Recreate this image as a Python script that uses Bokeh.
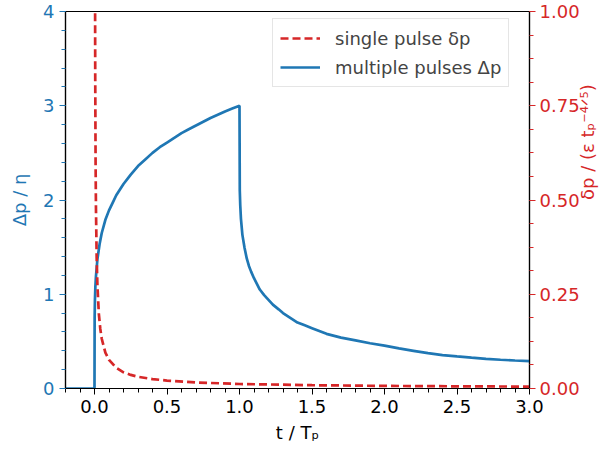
import math
from bokeh.plotting import figure
from bokeh.models import (Range1d, LinearAxis, SingleIntervalTicker, NumeralTickFormatter,
                          Legend, LegendItem)
from bokeh.embed import file_html
from bokeh.resources import INLINE

# ---- data ----
t_multi = [-0.2, 0.0, 0.0, 0.001, 0.003, 0.006, 0.01, 0.02, 0.035, 0.05, 0.075, 0.1, 0.125,
           0.15, 0.2, 0.25, 0.3, 0.35, 0.4, 0.45, 0.5, 0.55, 0.6, 0.65, 0.7, 0.75, 0.8,
           0.85, 0.9, 0.95, 1.0,
           1.002, 1.005, 1.01, 1.02, 1.035, 1.05, 1.065, 1.08, 1.1, 1.12, 1.14, 1.17, 1.2,
           1.23, 1.27, 1.3, 1.35, 1.4, 1.45, 1.5, 1.6, 1.7, 1.8, 1.9, 2.0, 2.1, 2.2, 2.3,
           2.4, 2.5, 2.6, 2.7, 2.8, 2.9, 3.0]
dp_multi = [0.0, 0.0, 0.0, 0.75, 0.94, 1.08, 1.19, 1.37, 1.53, 1.65, 1.79, 1.89, 1.97,
            2.05, 2.17, 2.27, 2.36, 2.43, 2.50, 2.56, 2.61, 2.66, 2.71, 2.75, 2.79, 2.83,
            2.87, 2.905, 2.94, 2.97, 3.0,
            2.10, 1.95, 1.80, 1.63, 1.49, 1.38, 1.30, 1.24, 1.17, 1.11, 1.05, 0.99, 0.94,
            0.89, 0.84, 0.80, 0.75, 0.70, 0.67, 0.64, 0.58, 0.54, 0.51, 0.48, 0.455, 0.425,
            0.40, 0.375, 0.355, 0.34, 0.327, 0.315, 0.305, 0.297, 0.29]

t_single = [0.003, 0.005, 0.0075, 0.01, 0.015, 0.02, 0.03, 0.04, 0.05, 0.075, 0.1, 0.15,
            0.2, 0.25, 0.3, 0.4, 0.5, 0.7, 1.0, 1.5, 2.0, 2.5, 3.0]
dp_single = [1.25, 0.83, 0.60, 0.48, 0.346, 0.275, 0.198, 0.158, 0.132, 0.095, 0.076,
             0.055, 0.043, 0.036, 0.031, 0.025, 0.021, 0.016, 0.012, 0.0087, 0.0069,
             0.0058, 0.005]

BLUE = "#1f77b4"
RED = "#d62728"
FONT = "DejaVu Sans"
FS = "18px"

p = figure(width=611, height=452, x_range=Range1d(-0.2, 3.0), y_range=Range1d(0, 4),
           output_backend="svg", toolbar_location=None,
           min_border_left=65, min_border_right=81, min_border_top=11, min_border_bottom=64)
p.extra_y_ranges = {"right": Range1d(0, 1)}
p.xgrid.visible = False
p.ygrid.visible = False
p.outline_line_color = "black"
p.outline_line_width = 1.2
p.outline_line_alpha = 1.0
p.background_fill_color = "white"
p.border_fill_color = "white"

def style_axis(ax, color, label, ticker, fmt):
    ax.ticker = ticker
    ax.formatter = NumeralTickFormatter(format=fmt)
    ax.axis_label = label
    ax.axis_label_text_font = FONT
    ax.axis_label_text_font_size = FS
    ax.axis_label_text_font_style = "normal"
    ax.axis_label_text_color = color
    ax.major_label_text_font = FONT
    ax.major_label_text_font_size = FS
    ax.major_label_text_color = color
    ax.axis_line_color = "black"
    ax.axis_line_width = 1.2
    ax.major_tick_line_color = color
    ax.minor_tick_line_color = color
    ax.major_tick_in = 0
    ax.major_tick_out = 6
    ax.minor_tick_in = 0
    ax.minor_tick_out = 4
    ax.major_label_standoff = 5

style_axis(p.xaxis[0], "black", "t / Tₚ",
           SingleIntervalTicker(interval=0.5, num_minor_ticks=5), "0.0")
p.xaxis[0].axis_label_standoff = 6
style_axis(p.yaxis[0], BLUE, "Δp / η",
           SingleIntervalTicker(interval=1, num_minor_ticks=5), "0")
p.yaxis[0].axis_label_standoff = 10

right = LinearAxis(y_range_name="right")
style_axis(right, RED, "δp / (ε tₚ⁻⁴ᐟ⁵)",
           SingleIntervalTicker(interval=0.25, num_minor_ticks=4), "0.00")
right.major_label_standoff = 4
right.axis_label_standoff = 5
if "axis_label_orientation" in right.properties():
    right.axis_label_orientation = math.pi / 2
p.add_layout(right, "right")

r_blue = p.line(t_multi, dp_multi, line_color=BLUE, line_width=2.7)
r_red = p.line(t_single, dp_single, y_range_name="right", line_color=RED,
               line_width=2.7, line_dash="8 4")

legend = Legend(items=[LegendItem(label="single pulse δp", renderers=[r_red]),
                       LegendItem(label="multiple pulses Δp", renderers=[r_blue])],
                location=(207, 301))
legend.label_text_font = FONT
legend.label_text_font_size = FS
legend.glyph_width = 40
legend.glyph_height = 24
legend.label_height = 24
legend.label_standoff = 15
legend.spacing = 5
legend.padding = 7
legend.margin = 0
legend.border_line_color = "#cccccc"
legend.border_line_width = 1
legend.background_fill_alpha = 0.8
p.add_layout(legend)

open("out.html", "w").write(file_html(p, INLINE))
